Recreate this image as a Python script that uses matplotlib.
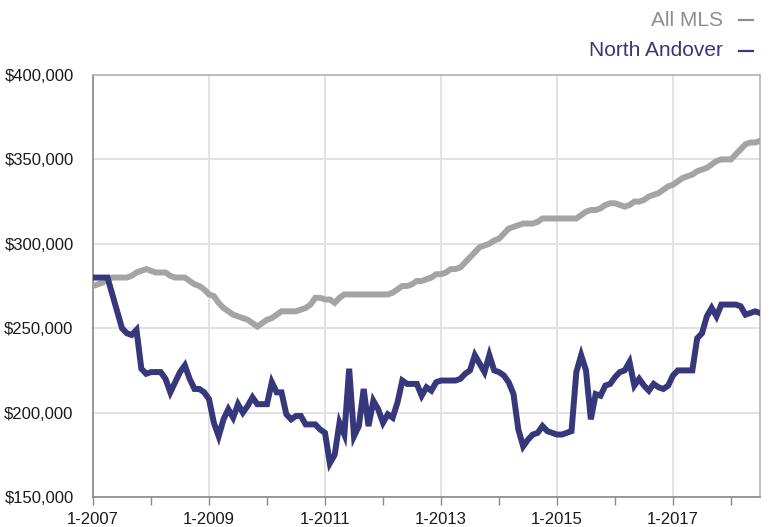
import matplotlib
matplotlib.use("Agg")
import matplotlib.pyplot as plt
from matplotlib.lines import Line2D
import numpy as np

plt.rcParams['font.family'] = ['Liberation Sans', 'DejaVu Sans']

# Median sale price, monthly from January 2007 through July 2018 (thousands of dollars)
all_mls = [
    275, 276, 277, 279, 280, 280, 280, 280, 281, 283, 284, 285,   # 2007
    284, 283, 283, 283, 281, 280, 280, 280, 278, 276, 275, 273,   # 2008
    270, 269, 265, 262, 260, 258, 257, 256, 255, 253, 251, 253,   # 2009
    255, 256, 258, 260, 260, 260, 260, 261, 262, 264, 268, 268,   # 2010
    267, 267, 265, 268, 270, 270, 270, 270, 270, 270, 270, 270,   # 2011
    270, 270, 271, 273, 275, 275, 276, 278, 278, 279, 280, 282,   # 2012
    282, 283, 285, 285, 286, 289, 292, 295, 298, 299, 300, 302,   # 2013
    303, 306, 309, 310, 311, 312, 312, 312, 313, 315, 315, 315,   # 2014
    315, 315, 315, 315, 315, 317, 319, 320, 320, 321, 323, 324,   # 2015
    324, 323, 322, 323, 325, 325, 326, 328, 329, 330, 332, 334,   # 2016
    335, 337, 339, 340, 341, 343, 344, 345, 347, 349, 350, 350,   # 2017
    350, 353, 356, 359, 360, 360, 361,                            # 2018
]

north_andover = [
    280, 280, 280, 280, 270, 260, 250, 247, 246, 249, 226, 223,   # 2007
    224, 224, 224, 220, 212, 218, 224, 228, 220, 214, 214, 212,   # 2008
    208, 194, 186, 196, 202, 197, 205, 200, 204, 209, 205, 205,   # 2009
    205, 218, 212, 212, 199, 196, 198, 198, 193, 193, 193, 190,   # 2010
    188, 170, 175, 194, 187, 226, 186, 192, 214, 192, 207, 202,   # 2011
    194, 199, 197, 206, 219, 217, 217, 217, 210, 215, 213, 218,   # 2012
    219, 219, 219, 219, 220, 223, 225, 234, 229, 224, 234, 225,   # 2013
    224, 222, 218, 211, 190, 180, 184, 187, 188, 192, 189, 188,   # 2014
    187, 187, 188, 189, 224, 234, 225, 196, 211, 210, 216, 217,   # 2015
    221, 224, 225, 230, 216, 220, 216, 213, 217, 215, 214, 216,   # 2016
    222, 225, 225, 225, 225, 244, 247, 257, 262, 257, 264, 264,   # 2017
    264, 264, 263, 258, 259, 260, 259,                            # 2018
]

x_tick_labels = ['1-2007', '1-2009', '1-2011', '1-2013', '1-2015', '1-2017']
y_ticks = [150000, 200000, 250000, 300000, 350000, 400000]

gray = '#a4a4a4'
navy = '#37377b'

months = np.arange(len(all_mls))
mls_vals = np.array(all_mls) * 1000
na_vals = np.array(north_andover) * 1000

fig = plt.figure(figsize=(7.7, 5.27), dpi=100)
ax = fig.add_axes([93 / 770, 1 - 497 / 527, (760 - 93) / 770, (497 - 75) / 527])

ax.plot(months, mls_vals, color=gray, lw=4.3, solid_joinstyle='miter', zorder=3)
ax.plot(months, na_vals, color=navy, lw=4.3, solid_joinstyle='miter', zorder=4)

ax.set_xlim(0, len(all_mls) - 1)
ax.set_ylim(y_ticks[0], y_ticks[-1])

ax.set_xticks(np.arange(len(x_tick_labels)) * 24)
ax.set_xticklabels(x_tick_labels)
ax.set_xticks(np.arange(len(x_tick_labels)) * 24 + 12, minor=True)
ax.set_yticks(y_ticks)
ax.set_yticklabels(['${:,.0f}'.format(v) for v in y_ticks])

ax.tick_params(axis='x', which='both', direction='out', length=6, width=1,
               color='#8a8a8a', labelsize=12, pad=5, labelcolor='#1a1a1a')
ax.tick_params(axis='y', length=0, labelsize=12, pad=14, labelcolor='#1a1a1a')

ax.grid(True, which='major', color='#e2e2e2', lw=1.5, zorder=0)
ax.set_axisbelow(True)

for side in ['left', 'bottom']:
    ax.spines[side].set_color('#8a8a8a')
    ax.spines[side].set_linewidth(1.2)
for side in ['top', 'right']:
    ax.spines[side].set_color('#b4b4b4')
    ax.spines[side].set_linewidth(1.2)

# Series key in the top-right corner
legend_items = [('All MLS', '#8e8e8e', 20), ('North Andover', navy, 51)]
for label, col, ypix in legend_items:
    yf = 1 - ypix / 527
    fig.text(723 / 770, yf, label, ha='right', va='center', fontsize=15, color=col)
    fig.add_artist(Line2D([739 / 770, 753 / 770], [yf, yf], color=col, lw=1.6,
                          transform=fig.transFigure))

fig.savefig('out.png', dpi=100)
